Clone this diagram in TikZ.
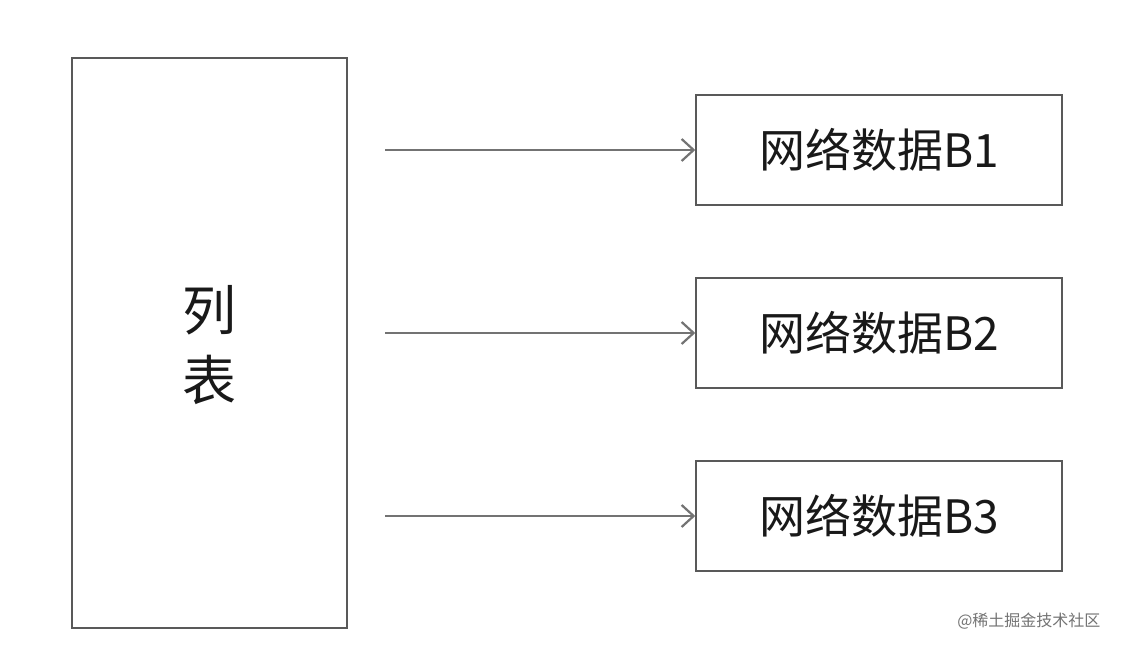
\documentclass[tikz,border=0pt]{standalone}
\usepackage{fontspec}
\newfontfamily\cjk{Noto Sans CJK SC}
\usetikzlibrary{arrows.meta}
\begin{document}
\begin{tikzpicture}[x=1pt,y=-1pt,
  box/.style={draw=black!65,line width=1.5pt,inner sep=0pt},
  conn/.style={draw=black!55,line width=1.8pt,-{Straight Barb[length=12pt,width=22pt,line width=2.2pt]}},
  lbl/.style={font=\cjk\fontsize{46}{50}\selectfont,text=black!90}]
\useasboundingbox[fill=white] (0,0) rectangle (1122,650);
\node[box,minimum width=275pt,minimum height=570pt] (list) at (209.5,343) {};
\node[lbl,align=center,font=\cjk\fontsize{54}{70}\selectfont] (lt) at (209,345) {列\\表};
\foreach \i/\y in {1/150,2/333,3/516}{
  \node[box,minimum width=366pt,minimum height=110pt,lbl] (b\i) at (879,\y) {网络数据B\i};
  \coordinate (s\i) at (385,\y);
  \draw[conn] (s\i) -- (b\i.west);
}
\node[font=\cjk\fontsize{16}{18}\selectfont,text=black!55,anchor=east] (wm) at (1104,621) {@稀土掘金技术社区};
\end{tikzpicture}
\end{document}
